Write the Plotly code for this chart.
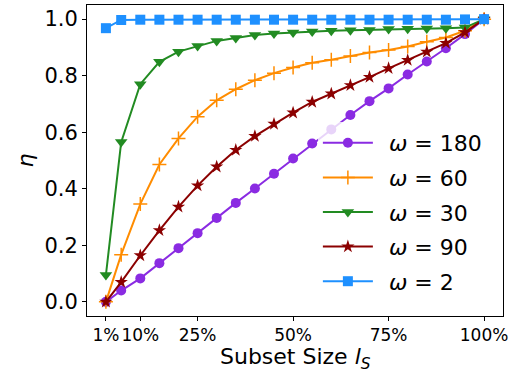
import plotly.graph_objects as go

x_pct = [1, 5, 10, 15, 20, 25, 30, 35, 40, 45, 50, 55, 60, 65, 70, 75, 80, 85, 90, 95, 100]

eta_w180 = [0.0, 0.04, 0.083, 0.137, 0.19, 0.243, 0.297, 0.35, 0.401, 0.453, 0.507,
            0.56, 0.61, 0.661, 0.71, 0.755, 0.804, 0.85, 0.897, 0.947, 1.0]
eta_w60 = [0.0, 0.167, 0.346, 0.486, 0.578, 0.655, 0.713, 0.752, 0.784, 0.809, 0.829,
           0.846, 0.856, 0.870, 0.882, 0.891, 0.903, 0.920, 0.935, 0.959, 1.0]
eta_w30 = [0.095, 0.565, 0.770, 0.849, 0.885, 0.905, 0.923, 0.933, 0.944, 0.949, 0.953,
           0.956, 0.959, 0.961, 0.962, 0.965, 0.966, 0.967, 0.968, 0.970, 1.0]
eta_w90 = [0.0, 0.070, 0.164, 0.253, 0.336, 0.411, 0.478, 0.537, 0.586, 0.629, 0.669,
           0.707, 0.736, 0.766, 0.795, 0.826, 0.855, 0.884, 0.915, 0.953, 1.0]
eta_w2 = [0.968, 0.997, 0.998, 0.998, 0.998, 0.998, 0.998, 0.998, 0.998, 0.998, 0.998,
          0.998, 0.998, 0.998, 0.998, 0.998, 0.998, 0.998, 0.998, 0.999, 1.0]

x_tick_vals = [1, 10, 25, 50, 75, 100]
x_tick_text = ["1%", "10%", "25%", "50%", "75%", "100%"]
y_tick_vals = [0.0, 0.2, 0.4, 0.6, 0.8, 1.0]

series = [
    ("180", eta_w180, "#8A2BE2", "circle", 10, None),
    ("60", eta_w60, "#FF8C00", "cross-thin", 10, 1.5),
    ("30", eta_w30, "#228B22", "triangle-down", 11, None),
    ("90", eta_w90, "#8B0000", "star", 10, None),
    ("2", eta_w2, "#1E90FF", "square", 10, None),
]

fig = go.Figure()
for i, (w, ys, col, sym, sz, lw) in enumerate(series):
    marker = dict(symbol=sym, size=sz, color=col)
    if lw is not None:
        marker["line"] = dict(color=col, width=lw)
    else:
        marker["line"] = dict(width=0)
    fig.add_trace(go.Scatter(
        x=x_pct, y=ys, mode="lines+markers",
        name=f"\u2002<i>ω</i> = {w}",
        legendgroup=f"g{i}",
        line=dict(color=col, width=2),
        marker=marker,
    ))

fig.update_layout(
    width=515, height=372,
    margin=dict(l=87, r=12, t=5, b=56),
    paper_bgcolor="white", plot_bgcolor="white",
    font=dict(family="DejaVu Sans", color="black"),
    showlegend=True,
    legend=dict(
        x=0.555, y=0.045, xanchor="left", yanchor="bottom",
        font=dict(size=22, family="DejaVu Sans"),
        bgcolor="rgba(255,255,255,0.8)",
        traceorder="grouped", tracegroupgap=3,
        itemwidth=50,
    ),
    xaxis=dict(
        range=[-3.95, 104.95], tickvals=x_tick_vals, ticktext=x_tick_text,
        tickfont=dict(size=17), tickangle=0, ticks="outside", ticklen=4, tickcolor="black",
        showline=True, linecolor="black", linewidth=1, mirror=True,
        showgrid=False, zeroline=False, automargin=False,
    ),
    yaxis=dict(
        range=[-0.05, 1.05], tickvals=y_tick_vals, tickformat=".1f",
        tickfont=dict(size=21), ticks="outside", ticklen=4, tickcolor="black",
        showline=True, linecolor="black", linewidth=1, mirror=True,
        showgrid=False, zeroline=False, automargin=False,
    ),
    annotations=[
        dict(text="Subset Size <i>l</i><sub><i>S</i></sub>", xref="paper", yref="paper",
             x=0.5, y=-0.138, xanchor="center", yanchor="middle",
             showarrow=False, font=dict(size=22)),
        dict(text="<i>η</i>", xref="paper", yref="paper", textangle=-90,
             x=-0.149, y=0.5, xanchor="center", yanchor="middle",
             showarrow=False, font=dict(size=22)),
    ],
)

fig.write_html("out.html", config={"displayModeBar": False},
               post_script="document.body.style.margin='0';")
